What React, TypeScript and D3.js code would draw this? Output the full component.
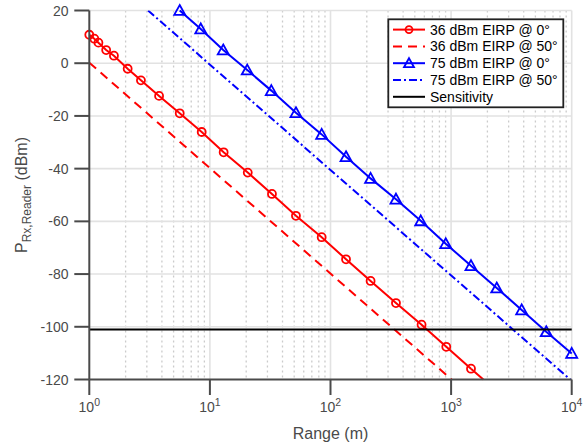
import React from "react";
import * as d3 from "d3";

// ---- data ----
const xTickValues = [1, 10, 100, 1000, 10000];
const xTickExponents = ["0", "1", "2", "3", "4"];
const yTickValues = [20, 0, -20, -40, -60, -80, -100, -120];

// 36 dBm EIRP @ 0° (markers)
const red0Range = [1, 1.1, 1.19, 1.38, 1.6, 2.08, 2.68, 3.79, 5.62, 8.55, 13.0, 20.6, 32.7, 51.7, 84.5, 134.5, 215, 349, 569, 912, 1462];
const red0Power = [10.8, 9.3, 7.8, 5.0, 2.85, -2.1, -6.5, -12.4, -19.0, -26.1, -33.8, -41.5, -49.6, -57.9, -66.0, -74.4, -82.6, -91.0, -99.2, -107.6, -115.9];
// line continues to axis bottom
const red0TailRange = [1462, 1850];
const red0TailPower = [-115.9, -120];

// 36 dBm EIRP @ 50°
const red50Range = [1, 1010];
const red50Power = [0.2, -120];

// 75 dBm EIRP @ 0°
const blue0Range = [5.62, 8.4, 12.9, 20.4, 32.3, 51.7, 84.5, 134.5, 215, 349, 560, 902, 1462, 2390, 3850, 6150, 10000];
const blue0Power = [20, 13.0, 5.0, -2.6, -10.4, -18.8, -27.0, -35.5, -43.7, -51.6, -59.8, -68.5, -76.8, -85.3, -93.6, -101.9, -110.1];

// 75 dBm EIRP @ 50°
const blue50Range = [3.07, 10000];
const blue50Power = [20, -120.5];

// Sensitivity
const sensRange = [1, 10000];
const sensPower = [-101, -101];

const legendLabels = ["36 dBm EIRP @ 0°", "36 dBm EIRP @ 50°", "75 dBm EIRP @ 0°", "75 dBm EIRP @ 50°", "Sensitivity"];

// ---- layout ----
const W = 583;
const H = 447;
const L = 89.3, R = 571.7, T = 10.5, B = 379.5;
const FONT = "'Liberation Sans', Arial, Helvetica, sans-serif";
const AX = "#4a4a4a";

export default function App() {
  const x = d3.scaleLog().domain([1, 10000]).range([L, R]);
  const y = d3.scaleLinear().domain([-120, 20]).range([B, T]);
  const line = d3
    .line<[number, number]>()
    .x((d) => x(d[0]))
    .y((d) => y(d[1]));
  const zip = (a: number[], b: number[]) => a.map((v, i) => [v, b[i]] as [number, number]);

  const minorTicks: number[] = [];
  for (let dec = 1; dec < 10000; dec *= 10) {
    for (let k = 2; k <= 9; k++) minorTicks.push(dec * k);
  }

  const tri = (cx: number, cy: number, s = 5.5) =>
    `M${cx},${cy - s} L${cx + s},${cy + s * 0.8} L${cx - s},${cy + s * 0.8} Z`;

  const legX = 388.3, legY = 19.3, legW = 175, legH = 88;
  const rowY = (i: number) => legY + 10.3 + i * 16.8;
  const sx0 = 393, sx1 = 425, sxm = 409;

  return (
    <svg width={W} height={H} style={{ position: "absolute", left: 0, top: 0, background: "#fff" }} fontFamily={FONT}>
      <defs>
        <clipPath id="plotclip">
          <rect x={L} y={T} width={R - L} height={B - T} />
        </clipPath>
      </defs>
      {/* grid */}
      {minorTicks.map((v) => (
        <line key={"m" + v} x1={x(v)} x2={x(v)} y1={T} y2={B} stroke="#cbcbcb" strokeWidth={1.3} strokeDasharray="2,3" />
      ))}
      {xTickValues.slice(1).map((v) => (
        <line key={"gx" + v} x1={x(v)} x2={x(v)} y1={T} y2={B} stroke="#e2e2e2" strokeWidth={1.6} />
      ))}
      {yTickValues.slice(0, -1).map((v) => (
        <line key={"gy" + v} x1={L} x2={R} y1={y(v)} y2={y(v)} stroke="#e2e2e2" strokeWidth={1.6} />
      ))}

      {/* series */}
      <g clipPath="url(#plotclip)" fill="none">
        <path d={line(zip(red50Range, red50Power)) || ""} stroke="#ff0000" strokeWidth={2} strokeDasharray="9,6" />
        <path d={line(zip(blue50Range, blue50Power)) || ""} stroke="#0000ff" strokeWidth={2} strokeDasharray="8,3,2,3" />
      </g>
      <g fill="none">
        <path d={line(zip(red0Range, red0Power)) || ""} stroke="#ff0000" strokeWidth={2} />
        <path d={line(zip(red0TailRange, red0TailPower)) || ""} stroke="#ff0000" strokeWidth={2} />
        {red0Range.map((r, i) => (
          <circle key={"rc" + i} cx={x(r)} cy={y(red0Power[i])} r={4} stroke="#ff0000" strokeWidth={1.8} />
        ))}
        <path d={line(zip(blue0Range, blue0Power)) || ""} stroke="#0000ff" strokeWidth={2} />
        {blue0Range.map((r, i) => (
          <path key={"bt" + i} d={tri(x(r), y(blue0Power[i]))} stroke="#0000ff" strokeWidth={1.8} strokeLinejoin="miter" />
        ))}
        <path d={line(zip(sensRange, sensPower)) || ""} stroke="#000" strokeWidth={2} />
      </g>

      {/* axes */}
      <line x1={L} x2={L} y1={T} y2={B} stroke={AX} strokeWidth={2} />
      <line x1={L} x2={R} y1={B} y2={B} stroke={AX} strokeWidth={2} />
      {yTickValues.map((v) => (
        <g key={"yt" + v}>
          <line x1={L - 15} x2={L} y1={y(v)} y2={y(v)} stroke={AX} strokeWidth={2} />
          <text x={68.5} y={y(v)} dy="0.36em" textAnchor="end" fontSize={14} fill={AX}>
            {v}
          </text>
        </g>
      ))}
      {xTickValues.map((v, i) => (
        <g key={"xt" + v}>
          <line x1={x(v)} x2={x(v)} y1={B} y2={B + 15.5} stroke={AX} strokeWidth={2} />
          <text x={x(v)} y={411.5} textAnchor="middle" fontSize={14} fill={AX}>
            10
            <tspan dy={-6} fontSize={10.5}>{xTickExponents[i]}</tspan>
          </text>
        </g>
      ))}
      <text x={(L + R) / 2} y={439} textAnchor="middle" fontSize={16} fill={AX}>
        Range (m)
      </text>
      <text transform={`translate(27,${(T + B) / 2}) rotate(-90)`} textAnchor="middle" fontSize={16} fill={AX}>
        P
        <tspan dy={4} fontSize={12}>Rx,Reader</tspan>
        <tspan dy={-4}> (dBm)</tspan>
      </text>

      {/* legend */}
      <rect x={legX} y={legY} width={legW} height={legH} fill="#fff" stroke="#222" strokeWidth={1.8} />
      <g fill="none">
        <line x1={sx0} x2={sx1} y1={rowY(0)} y2={rowY(0)} stroke="#ff0000" strokeWidth={2} />
        <circle cx={sxm} cy={rowY(0)} r={3.5} stroke="#ff0000" strokeWidth={1.8} />
        <line x1={sx0} x2={sx1} y1={rowY(1)} y2={rowY(1)} stroke="#ff0000" strokeWidth={2} strokeDasharray="9,6" />
        <line x1={sx0} x2={sx1} y1={rowY(2)} y2={rowY(2)} stroke="#0000ff" strokeWidth={2} />
        <path d={tri(sxm, rowY(2), 5)} stroke="#0000ff" strokeWidth={1.8} />
        <line x1={sx0} x2={sx1} y1={rowY(3)} y2={rowY(3)} stroke="#0000ff" strokeWidth={2} strokeDasharray="8,3,2,3" />
        <line x1={sx0} x2={sx1} y1={rowY(4)} y2={rowY(4)} stroke="#000" strokeWidth={2} />
      </g>
      {legendLabels.map((t, i) => (
        <text key={t} x={430} y={rowY(i)} dy="0.36em" fontSize={14} fill="#000">
          {t}
        </text>
      ))}
    </svg>
  );
}
